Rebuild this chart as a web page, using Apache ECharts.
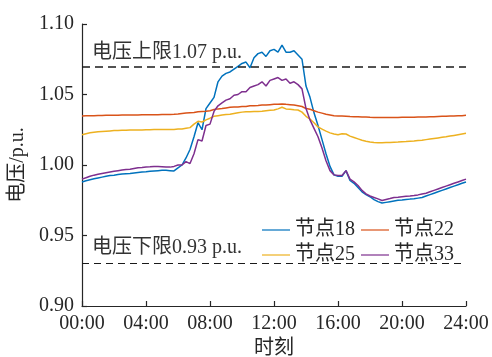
<!DOCTYPE html>
<html>
<head>
<meta charset="utf-8">
<script src="https://cdn.jsdelivr.net/npm/echarts@6/dist/echarts.min.js"></script>
<style>
  html, body { margin: 0; padding: 0; background: #fff; }
  #chart { width: 492px; height: 357px; }
</style>
</head>
<body>
<div id="chart"></div>
<script>
// Node voltage over one day, sampled every 15 minutes (hours 0..24)
const hours = Array.from({ length: 97 }, (_, i) => i / 4);
const tickLabels = ['00:00', '04:00', '08:00', '12:00', '16:00', '20:00', '24:00'];
const seriesNames = ['节点18', '节点22', '节点25', '节点33'];

const node18 = [
  0.9880, 0.9888, 0.9895, 0.9902, 0.9908, 0.9914, 0.9920, 0.9925, 0.9928, 0.9932,
  0.9936, 0.9938, 0.9940, 0.9944, 0.9947, 0.9950, 0.9952, 0.9955, 0.9958, 0.9960,
  0.9962, 0.9962, 0.9960, 0.9958, 0.9980, 1.0000, 1.0050, 1.0110, 1.0200, 1.0300,
  1.0250, 1.0400, 1.0440, 1.0480, 1.0590, 1.0630, 1.0650, 1.0660, 1.0680, 1.0700,
  1.0720, 1.0730, 1.0690, 1.0760, 1.0790, 1.0800, 1.0770, 1.0810, 1.0820, 1.0800,
  1.0850, 1.0800, 1.0800, 1.0810, 1.0780, 1.0750, 1.0560, 1.0480, 1.0370, 1.0280,
  1.0180, 1.0080, 0.9990, 0.9930, 0.9920, 0.9920, 0.9960, 0.9890, 0.9870, 0.9840,
  0.9810, 0.9790, 0.9775, 0.9755, 0.9740, 0.9730, 0.9735, 0.9740, 0.9745, 0.9750,
  0.9752, 0.9755, 0.9758, 0.9760, 0.9765, 0.9770, 0.9780, 0.9790, 0.9800, 0.9810,
  0.9820, 0.9830, 0.9840, 0.9850, 0.9860, 0.9870, 0.9880
];

const node22 = [
  1.0348, 1.0349, 1.0350, 1.0350, 1.0351, 1.0351, 1.0352, 1.0352, 1.0353, 1.0353,
  1.0354, 1.0354, 1.0355, 1.0355, 1.0355, 1.0356, 1.0356, 1.0356, 1.0357, 1.0357,
  1.0358, 1.0358, 1.0359, 1.0360, 1.0362, 1.0365, 1.0368, 1.0370, 1.0372, 1.0378,
  1.0380, 1.0382, 1.0385, 1.0393, 1.0398, 1.0400, 1.0405, 1.0410, 1.0412, 1.0412,
  1.0415, 1.0415, 1.0420, 1.0420, 1.0422, 1.0425, 1.0425, 1.0428, 1.0430, 1.0430,
  1.0433, 1.0430, 1.0428, 1.0425, 1.0420, 1.0415, 1.0400, 1.0395, 1.0385, 1.0375,
  1.0368, 1.0360, 1.0355, 1.0350, 1.0348, 1.0348, 1.0346, 1.0344, 1.0343, 1.0342,
  1.0340, 1.0340, 1.0338, 1.0337, 1.0336, 1.0336, 1.0336, 1.0336, 1.0337, 1.0337,
  1.0338, 1.0338, 1.0339, 1.0339, 1.0340, 1.0340, 1.0341, 1.0342, 1.0343, 1.0344,
  1.0345, 1.0346, 1.0347, 1.0348, 1.0349, 1.0350, 1.0352
];

const node25 = [
  1.0215, 1.0222, 1.0228, 1.0232, 1.0236, 1.0238, 1.0240, 1.0242, 1.0244, 1.0245,
  1.0246, 1.0247, 1.0248, 1.0248, 1.0249, 1.0249, 1.0250, 1.0250, 1.0251, 1.0251,
  1.0251, 1.0252, 1.0252, 1.0252, 1.0255, 1.0255, 1.0260, 1.0265, 1.0290, 1.0310,
  1.0305, 1.0320, 1.0332, 1.0345, 1.0350, 1.0355, 1.0358, 1.0360, 1.0365, 1.0370,
  1.0375, 1.0378, 1.0378, 1.0380, 1.0380, 1.0382, 1.0385, 1.0388, 1.0390, 1.0398,
  1.0410, 1.0398, 1.0395, 1.0392, 1.0390, 1.0375, 1.0345, 1.0325, 1.0300, 1.0270,
  1.0255, 1.0240, 1.0228, 1.0220, 1.0215, 1.0222, 1.0220, 1.0205, 1.0195, 1.0185,
  1.0175, 1.0168, 1.0163, 1.0160, 1.0158, 1.0158, 1.0160, 1.0160, 1.0162, 1.0163,
  1.0165, 1.0166, 1.0168, 1.0170, 1.0173, 1.0176, 1.0180, 1.0184, 1.0188, 1.0192,
  1.0196, 1.0200, 1.0205, 1.0210, 1.0215, 1.0220, 1.0225
];

const node33 = [
  0.9900, 0.9910, 0.9920, 0.9928, 0.9935, 0.9940, 0.9945, 0.9950, 0.9955, 0.9960,
  0.9965, 0.9968, 0.9970, 0.9975, 0.9980, 0.9982, 0.9985, 0.9987, 0.9990, 0.9990,
  0.9988, 0.9985, 0.9985, 0.9990, 1.0000, 1.0000, 1.0024, 1.0010, 1.0080, 1.0180,
  1.0170, 1.0280, 1.0290, 1.0380, 1.0420, 1.0440, 1.0460, 1.0470, 1.0495, 1.0500,
  1.0520, 1.0520, 1.0550, 1.0560, 1.0570, 1.0590, 1.0560, 1.0600, 1.0610, 1.0620,
  1.0600, 1.0610, 1.0580, 1.0590, 1.0570, 1.0540, 1.0400, 1.0320, 1.0260, 1.0200,
  1.0120, 1.0030, 0.9960, 0.9930, 0.9925, 0.9925, 0.9960, 0.9900, 0.9880, 0.9855,
  0.9820, 0.9795, 0.9780, 0.9770, 0.9760, 0.9748, 0.9755, 0.9762, 0.9770, 0.9772,
  0.9775, 0.9778, 0.9780, 0.9783, 0.9788, 0.9795, 0.9800, 0.9810, 0.9820, 0.9830,
  0.9840, 0.9850, 0.9860, 0.9870, 0.9880, 0.9890, 0.9900
];

const upperLimit = 1.07;
const lowerLimit = 0.93;
const upperText = '电压上限1.07 p.u.';
const lowerText = '电压下限0.93 p.u.';

const colors = ['#0072BD', '#D95319', '#EDB120', '#7E2F8E'];
const FONT = "'Liberation Serif', 'Noto Sans CJK SC', serif";
const TEXT = '#262626';

const pairs = vals => hours.map((h, i) => [h, vals[i]]);

const chart = echarts.init(document.getElementById('chart'), null, { renderer: 'canvas' });

const legendCommon = {
  orient: 'horizontal',
  itemWidth: 28,
  itemHeight: 10,
  itemGap: 6,
  icon: 'path://M0,4.4 L28,4.4 L28,5.6 L0,5.6 Z',
  textStyle: { fontFamily: FONT, fontSize: 20, color: TEXT, lineHeight: 20 }
};

const mk = (name, data, color, extra) => Object.assign({
  name,
  type: 'line',
  data: pairs(data),
  symbol: 'none',
  smooth: false,
  color,
  lineStyle: { color, width: 1.5 },
  animation: false
}, extra || {});

chart.setOption({
  animation: false,
  backgroundColor: '#fff',
  color: colors,
  grid: { left: 82, right: 26, top: 24, bottom: 51, containLabel: false, outerBoundsMode: 'none' },
  legend: [
    Object.assign({ data: [seriesNames[0], seriesNames[1]], left: 257, top: 215 }, legendCommon),
    Object.assign({ data: [seriesNames[2], seriesNames[3]], left: 257, top: 240 }, legendCommon)
  ],
  xAxis: {
    type: 'value',
    min: 0,
    max: 24,
    interval: 4,
    name: '时刻',
    nameLocation: 'middle',
    nameGap: 30,
    nameTextStyle: { fontFamily: FONT, fontSize: 20, color: TEXT, verticalAlign: 'top' },
    axisLine: { lineStyle: { color: TEXT, width: 1.2 } },
    axisTick: { inside: true, length: 5, lineStyle: { color: TEXT, width: 1.2 } },
    axisLabel: {
      fontFamily: FONT, fontSize: 20, color: TEXT, margin: 8,
      formatter: v => tickLabels[Math.round(v / 4)]
    },
    splitLine: { show: false }
  },
  yAxis: {
    type: 'value',
    min: 0.90,
    max: 1.10,
    interval: 0.05,
    name: '电压/p.u.',
    nameLocation: 'middle',
    nameGap: 45,
    nameRotate: 90,
    nameTextStyle: { fontFamily: FONT, fontSize: 20, color: TEXT },
    axisLine: { show: true, lineStyle: { color: TEXT, width: 1.2 } },
    axisTick: { show: true, inside: true, length: 5, lineStyle: { color: TEXT, width: 1.2 } },
    axisLabel: {
      fontFamily: FONT, fontSize: 20, color: TEXT, margin: 8,
      formatter: v => v.toFixed(2)
    },
    splitLine: { show: false }
  },
  series: [
    mk(seriesNames[0], node18, colors[0], {
      markLine: {
        silent: true,
        symbol: 'none',
        animation: false,
        data: [
          {
            yAxis: upperLimit,
            lineStyle: { color: '#1a1a1a', type: [8, 5], width: 1.6 },
            label: {
              show: true, position: 'insideStartTop', formatter: upperText,
              fontFamily: FONT, fontSize: 20, color: '#333', distance: [10, 4]
            }
          },
          {
            yAxis: lowerLimit,
            lineStyle: { color: '#1a1a1a', type: [7, 5], width: 1.2 },
            label: {
              show: true, position: 'insideStartTop', formatter: lowerText,
              fontFamily: FONT, fontSize: 20, color: '#333', distance: [10, 6]
            }
          }
        ]
      }
    }),
    mk(seriesNames[1], node22, colors[1]),
    mk(seriesNames[2], node25, colors[2]),
    mk(seriesNames[3], node33, colors[3])
  ]
});
</script>
</body>
</html>
